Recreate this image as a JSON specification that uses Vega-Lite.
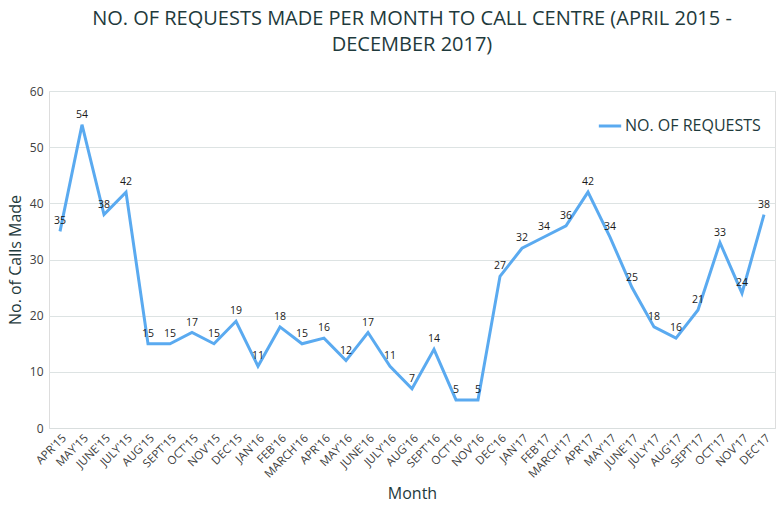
{
  "$schema": "https://vega.github.io/schema/vega-lite/v6.json",
  "autosize": "none",
  "width": 726,
  "height": 337,
  "padding": {"left": 49, "top": 91, "right": 3, "bottom": 79},
  "background": "white",
  "title": {
    "text": ["NO. OF REQUESTS MADE PER MONTH TO CALL CENTRE (APRIL 2015 -", "DECEMBER 2017)"],
    "font": "Open Sans",
    "fontSize": 20,
    "fontWeight": "normal",
    "color": "#1e3a3c",
    "lineHeight": 26,
    "anchor": "middle",
    "offset": 30
  },
  "data": {
    "values": [
      {"month": "APR'15", "requests": 35, "series": "NO. OF REQUESTS"},
      {"month": "MAY'15", "requests": 54, "series": "NO. OF REQUESTS"},
      {"month": "JUNE'15", "requests": 38, "series": "NO. OF REQUESTS"},
      {"month": "JULY'15", "requests": 42, "series": "NO. OF REQUESTS"},
      {"month": "AUG'15", "requests": 15, "series": "NO. OF REQUESTS"},
      {"month": "SEPT'15", "requests": 15, "series": "NO. OF REQUESTS"},
      {"month": "OCT'15", "requests": 17, "series": "NO. OF REQUESTS"},
      {"month": "NOV'15", "requests": 15, "series": "NO. OF REQUESTS"},
      {"month": "DEC'15", "requests": 19, "series": "NO. OF REQUESTS"},
      {"month": "JAN'16", "requests": 11, "series": "NO. OF REQUESTS"},
      {"month": "FEB'16", "requests": 18, "series": "NO. OF REQUESTS"},
      {"month": "MARCH'16", "requests": 15, "series": "NO. OF REQUESTS"},
      {"month": "APR'16", "requests": 16, "series": "NO. OF REQUESTS"},
      {"month": "MAY'16", "requests": 12, "series": "NO. OF REQUESTS"},
      {"month": "JUNE'16", "requests": 17, "series": "NO. OF REQUESTS"},
      {"month": "JULY'16", "requests": 11, "series": "NO. OF REQUESTS"},
      {"month": "AUG'16", "requests": 7, "series": "NO. OF REQUESTS"},
      {"month": "SEPT'16", "requests": 14, "series": "NO. OF REQUESTS"},
      {"month": "OCT'16", "requests": 5, "series": "NO. OF REQUESTS"},
      {"month": "NOV'16", "requests": 5, "series": "NO. OF REQUESTS"},
      {"month": "DEC'16", "requests": 27, "series": "NO. OF REQUESTS"},
      {"month": "JAN'17", "requests": 32, "series": "NO. OF REQUESTS"},
      {"month": "FEB'17", "requests": 34, "series": "NO. OF REQUESTS"},
      {"month": "MARCH'17", "requests": 36, "series": "NO. OF REQUESTS"},
      {"month": "APR'17", "requests": 42, "series": "NO. OF REQUESTS"},
      {"month": "MAY'17", "requests": 34, "series": "NO. OF REQUESTS"},
      {"month": "JUNE'17", "requests": 25, "series": "NO. OF REQUESTS"},
      {"month": "JULY'17", "requests": 18, "series": "NO. OF REQUESTS"},
      {"month": "AUG'17", "requests": 16, "series": "NO. OF REQUESTS"},
      {"month": "SEPT'17", "requests": 21, "series": "NO. OF REQUESTS"},
      {"month": "OCT'17", "requests": 33, "series": "NO. OF REQUESTS"},
      {"month": "NOV'17", "requests": 24, "series": "NO. OF REQUESTS"},
      {"month": "DEC'17", "requests": 38, "series": "NO. OF REQUESTS"}
    ]
  },
  "encoding": {
    "x": {
      "field": "month",
      "type": "ordinal",
      "sort": null,
      "scale": {"type": "point", "padding": 0.5},
      "axis": {
        "title": "Month",
        "titleFont": "Open Sans",
        "titleFontSize": 16,
        "titleFontWeight": "normal",
        "titleColor": "#1e3a3c",
        "titlePadding": 6,
        "labelAngle": -45,
        "labelFont": "Open Sans",
        "labelFontSize": 11.5,
        "labelColor": "#404040",
        "labelPadding": 4,
        "ticks": false,
        "domain": true,
        "domainColor": "#d9dede",
        "grid": false
      }
    },
    "y": {
      "field": "requests",
      "type": "quantitative",
      "scale": {"domain": [0, 60]},
      "axis": {
        "title": "No. of Calls Made",
        "titleFont": "Open Sans",
        "titleFontSize": 16,
        "titleFontWeight": "normal",
        "titleColor": "#1e3a3c",
        "titlePadding": 6,
        "values": [0, 10, 20, 30, 40, 50, 60],
        "labelFont": "Open Sans",
        "labelFontSize": 12,
        "labelColor": "#404040",
        "labelPadding": 6,
        "ticks": false,
        "domain": false,
        "grid": true,
        "gridColor": "#dde3e3"
      }
    }
  },
  "layer": [
    {
      "mark": {"type": "line", "strokeWidth": 3},
      "encoding": {
        "color": {
          "field": "series",
          "type": "nominal",
          "scale": {"range": ["#5aaaf0"]},
          "legend": {
            "title": null,
            "orient": "none",
            "legendX": 548,
            "legendY": 22,
            "symbolType": "stroke",
            "symbolStrokeWidth": 3,
            "symbolSize": 500,
            "labelFont": "Open Sans",
            "labelFontSize": 16,
            "labelColor": "#1e3a3c",
            "labelOffset": 2
          }
        }
      }
    },
    {
      "mark": {"type": "text", "dy": -10, "font": "Open Sans", "fontSize": 10.5, "color": "#1a1a1a"},
      "encoding": {
        "text": {"field": "requests", "type": "quantitative"}
      }
    }
  ]
}
